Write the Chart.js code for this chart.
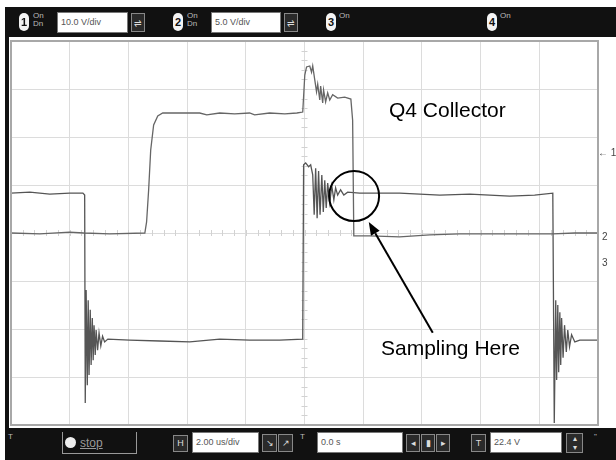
<!DOCTYPE html>
<html>
<head>
<meta charset="utf-8">
<script src="https://cdn.jsdelivr.net/npm/chart.js@4.4.1/dist/chart.umd.min.js"></script>
<style>
  html, body { margin: 0; padding: 0; background: #fff; }
  #wrap { position: relative; width: 616px; height: 460px; overflow: hidden; font-family: "Liberation Sans", Arial, sans-serif; }
  canvas { position: absolute; left: 0; top: 0; }
  .blk { position: absolute; background: #111; }
  .ov { position: absolute; z-index: 2; }
  .box { position: absolute; background: #fff; border: 1px solid #777; box-sizing: border-box; font-size: 9px; color: #555; line-height: 19px; padding-left: 3px; white-space: nowrap; z-index: 2; }
  .badge { position: absolute; background: #f4f4f4; border-radius: 6px; color: #111; font-size: 11px; font-weight: bold; text-align: center; z-index: 2; }
  .ic { position: absolute; border: 1px solid #888; background: #2a2a2a; color: #ddd; font-size: 9px; text-align: center; box-sizing: border-box; z-index: 2; }
  .tiny { position: absolute; color: #bbb; font-size: 8px; line-height: 8px; z-index: 2; }
  .ann { position: absolute; font-size: 21px; line-height: 21px; color: #000; z-index: 3; white-space: nowrap; }
  .mark { position: absolute; font-size: 10px; line-height: 10px; color: #444; z-index: 3; white-space: nowrap; }
</style>
</head>
<body>
<div id="wrap">
  <canvas id="c" width="616" height="460"></canvas>
  <!-- frame -->
  <div class="blk" style="left:5px;top:7px;width:611px;height:30px;"></div>
  <div class="blk" style="left:5px;top:37px;width:4px;height:391px;"></div>
  <div class="blk" style="left:5px;top:428px;width:611px;height:32px;"></div>

  <!-- header -->
  <div class="badge" style="left:19px;top:13px;width:10px;height:18px;line-height:18px;">1</div>
  <div class="tiny" style="left:33px;top:12px;">On<br>Dn</div>
  <div class="box" style="left:57px;top:12px;width:71px;height:21px;">10.0 V/div</div>
  <div class="ic" style="left:131px;top:13px;width:14px;height:19px;line-height:18px;">⇌</div>

  <div class="badge" style="left:173px;top:13px;width:10px;height:18px;line-height:18px;">2</div>
  <div class="tiny" style="left:187px;top:12px;">On<br>Dn</div>
  <div class="box" style="left:211px;top:12px;width:70px;height:21px;">5.0 V/div</div>
  <div class="ic" style="left:284px;top:13px;width:14px;height:19px;line-height:18px;">⇌</div>

  <div class="badge" style="left:326px;top:13px;width:10px;height:18px;line-height:18px;">3</div>
  <div class="tiny" style="left:339px;top:12px;">On</div>

  <div class="badge" style="left:487px;top:13px;width:10px;height:18px;line-height:18px;">4</div>
  <div class="tiny" style="left:500px;top:12px;">On</div>

  <!-- footer -->
  <div class="tiny" style="left:8px;top:433px;">T</div>
  <div class="ov" style="left:62px;top:432px;width:75px;height:22px;border:1px solid #999;border-top:none;box-sizing:border-box;"></div>
  <div class="ov" style="left:65px;top:437px;width:11px;height:11px;border-radius:6px;background:#eee;"></div>
  <div class="ov" style="left:80px;top:434px;font-size:12px;line-height:18px;color:#999;text-decoration:underline;">stop</div>
  <div class="ic" style="left:173px;top:435px;width:15px;height:17px;line-height:15px;">H</div>
  <div class="box" style="left:192px;top:432px;width:67px;height:21px;">2.00 us/div</div>
  <div class="ic" style="left:262px;top:434px;width:15px;height:18px;line-height:16px;">↘</div>
  <div class="ic" style="left:278px;top:434px;width:15px;height:18px;line-height:16px;">↗</div>
  <div class="tiny" style="left:300px;top:433px;">T</div>
  <div class="box" style="left:317px;top:432px;width:86px;height:21px;">0.0 s</div>
  <div class="ic" style="left:406px;top:434px;width:14px;height:18px;line-height:16px;">◂</div>
  <div class="ic" style="left:421px;top:434px;width:14px;height:18px;line-height:16px;">▮</div>
  <div class="ic" style="left:436px;top:434px;width:14px;height:18px;line-height:16px;">▸</div>
  <div class="ic" style="left:471px;top:434px;width:15px;height:18px;line-height:16px;">T</div>
  <div class="box" style="left:490px;top:432px;width:72px;height:21px;">22.4 V</div>
  <div class="ic" style="left:566px;top:433px;width:17px;height:20px;line-height:9px;font-size:8px;">▴<br>▾</div>
  <div class="tiny" style="left:594px;top:433px;">"</div>

  <!-- right-side channel markers -->
  <div class="mark" style="left:598px;top:148px;">← 1</div>
  <div class="mark" style="left:602px;top:232px;">2</div>
  <div class="mark" style="left:602px;top:258px;">3</div>

  <!-- annotations -->
  <div class="ann" style="left:389px;top:99px;">Q4 Collector</div>
  <div class="ann" style="left:381px;top:337px;">Sampling Here</div>
</div>

<script>
// Time axis in microseconds (2 us/div, 10 divisions); vertical in screen divisions (0..8)
const timeRange = [0, 20];
const divRange = [0, 8];

// Channel 1 (upper trace, Q4 collector)
const ch1Time = [0, 0.98, 2.0, 2.48, 3.36, 4.56, 4.62, 4.69, 4.76, 4.86, 5.0, 5.17, 6.43, 6.67, 7.11, 7.62, 8.13, 8.30, 8.81, 9.33, 9.74, 9.94,
  9.97, 10.01, 10.07, 10.18, 10.24, 10.28, 10.35, 10.41, 10.45, 10.52, 10.55, 10.62, 10.65, 10.72, 10.79, 10.86, 10.96, 11.13, 11.37, 11.58,
  11.64, 11.68, 12.22, 13.24, 14.27, 15.29, 16.31, 17.33, 18.46, 19.21, 20];
const ch1Div = [4.0, 3.98, 4.02, 4.0, 3.98, 4.0, 4.23, 4.90, 5.73, 6.25, 6.44, 6.5, 6.5, 6.46, 6.5, 6.48, 6.5, 6.46, 6.5, 6.48, 6.5, 6.52,
  6.85, 7.29, 7.46, 7.48, 7.35, 7.48, 7.19, 6.94, 7.1, 6.77, 7.06, 6.71, 6.98, 6.73, 6.92, 6.77, 6.88, 6.81, 6.83, 6.79,
  6.35, 3.94, 3.94, 3.92, 3.96, 3.98, 3.98, 3.98, 3.98, 4.0, 4.0];

// Channel 2 (lower trace)
const ch2Time = [0, 0.64, 1.32, 2.0, 2.45, 2.51, 2.53, 2.56, 2.60, 2.63, 2.66, 2.70, 2.73, 2.77, 2.80, 2.83, 2.87, 2.90, 2.95, 3.0, 3.06, 3.12, 3.19, 3.3,
  4.04, 5.07, 6.09, 7.11, 8.13, 9.15, 9.94, 9.97, 10.04, 10.14, 10.21, 10.28, 10.33, 10.38, 10.43, 10.48, 10.53, 10.59, 10.64, 10.69, 10.74,
  10.79, 10.86, 10.93, 11.0, 11.06, 11.13, 11.23, 11.34, 11.47, 11.88, 13.24, 14.61, 15.63, 16.99, 17.84, 18.46, 18.51, 18.56, 18.59, 18.63,
  18.66, 18.70, 18.73, 18.76, 18.81, 18.86, 18.92, 18.97, 19.03, 19.1, 19.21, 19.38, 20];
const ch2Div = [4.83, 4.85, 4.81, 4.83, 4.83, 4.79, 0.46, 2.81, 0.83, 2.6, 1.04, 2.4, 1.25, 2.23, 1.35, 2.08, 1.46, 1.98, 1.56, 1.92, 1.65, 1.85, 1.73, 1.79,
  1.77, 1.75, 1.73, 1.79, 1.77, 1.77, 1.79, 5.42, 5.46, 5.38, 5.42, 5.21, 4.38, 5.35, 4.31, 5.29, 4.38, 5.21, 4.44, 5.1, 4.52,
  5.04, 4.63, 4.98, 4.69, 4.94, 4.79, 4.9, 4.79, 4.85, 4.83, 4.83, 4.79, 4.81, 4.77, 4.79, 4.83, 0.04, 2.6, 0.94, 2.5,
  1.1, 2.35, 1.25, 2.23, 1.4, 2.08, 1.52, 1.98, 1.63, 1.88, 1.73, 1.77, 1.77];

// Annotation anchors (data space)
const circleCenter = [11.69, 4.77];
const arrowTail = [14.37, 1.92];
const arrowTip = [12.19, 4.23];

function toPoints(xs, ys) { return xs.map((x, i) => ({ x: x, y: ys[i] })); }

const scopePlugin = {
  id: 'scope',
  beforeDatasetsDraw(chart) {
    const { ctx, scales: { x, y } } = chart;
    ctx.save();
    ctx.strokeStyle = '#d2d2d2';
    ctx.lineWidth = 1;
    const cx = x.getPixelForValue((timeRange[0] + timeRange[1]) / 2);
    const cy = y.getPixelForValue((divRange[0] + divRange[1]) / 2);
    ctx.beginPath();
    for (let t = timeRange[0]; t <= timeRange[1] + 1e-6; t += 0.4) {
      const px = Math.round(x.getPixelForValue(t)) + 0.5;
      ctx.moveTo(px, cy - 3); ctx.lineTo(px, cy + 3);
    }
    for (let d = divRange[0]; d <= divRange[1] + 1e-6; d += 0.2) {
      const py = Math.round(y.getPixelForValue(d)) + 0.5;
      ctx.moveTo(cx - 3, py); ctx.lineTo(cx + 3, py);
    }
    ctx.stroke();
    ctx.restore();
  },
  afterDraw(chart) {
    const { ctx, chartArea: a, scales: { x, y } } = chart;
    ctx.save();
    ctx.strokeStyle = '#a8a8a8';
    ctx.lineWidth = 2;
    ctx.strokeRect(a.left, a.top, a.right - a.left, a.bottom - a.top);
    ctx.strokeStyle = '#000';
    ctx.lineWidth = 2;
    ctx.beginPath();
    ctx.arc(x.getPixelForValue(circleCenter[0]), y.getPixelForValue(circleCenter[1]), 25, 0, Math.PI * 2);
    ctx.stroke();
    const tx = x.getPixelForValue(arrowTail[0]), ty = y.getPixelForValue(arrowTail[1]);
    const hx = x.getPixelForValue(arrowTip[0]), hy = y.getPixelForValue(arrowTip[1]);
    const ang = Math.atan2(hy - ty, hx - tx);
    const L = 13, W = 5;
    const bx = hx - L * Math.cos(ang), by = hy - L * Math.sin(ang);
    ctx.beginPath();
    ctx.moveTo(tx, ty); ctx.lineTo(bx, by);
    ctx.stroke();
    ctx.fillStyle = '#000';
    ctx.beginPath();
    ctx.moveTo(hx, hy);
    ctx.lineTo(bx + W * Math.sin(ang), by - W * Math.cos(ang));
    ctx.lineTo(bx - W * Math.sin(ang), by + W * Math.cos(ang));
    ctx.closePath();
    ctx.fill();
    ctx.restore();
  }
};

new Chart(document.getElementById('c'), {
  type: 'scatter',
  data: {
    datasets: [
      { label: 'Ch1', data: toPoints(ch1Time, ch1Div), showLine: true, borderColor: '#666666', borderWidth: 1.3, pointRadius: 0, tension: 0 },
      { label: 'Ch2', data: toPoints(ch2Time, ch2Div), showLine: true, borderColor: '#555555', borderWidth: 1.3, pointRadius: 0, tension: 0 }
    ]
  },
  options: {
    responsive: false,
    animation: false,
    layout: { padding: { left: 11, right: 18, top: 41, bottom: 35 } },
    plugins: { legend: { display: false }, tooltip: { enabled: false } },
    scales: {
      x: {
        type: 'linear', min: timeRange[0], max: timeRange[1],
        ticks: { display: false, stepSize: 2 },
        grid: { color: '#dcdcdc', drawTicks: false, lineWidth: 1 },
        border: { display: false }
      },
      y: {
        type: 'linear', min: divRange[0], max: divRange[1],
        ticks: { display: false, stepSize: 1 },
        grid: { color: '#dcdcdc', drawTicks: false, lineWidth: 1 },
        border: { display: false }
      }
    }
  },
  plugins: [scopePlugin]
});
</script>
</body>
</html>
